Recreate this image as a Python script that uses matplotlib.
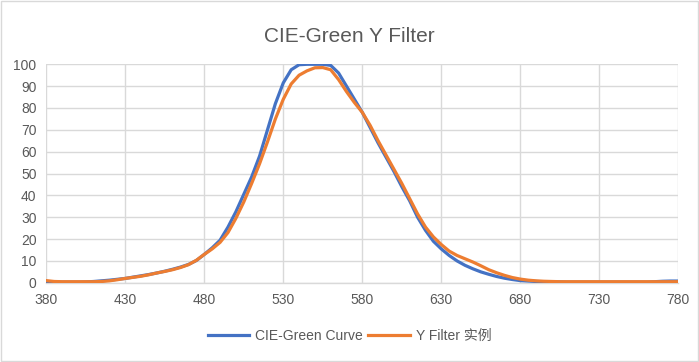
import numpy as np
import matplotlib
matplotlib.use("Agg")
from matplotlib import pyplot as plt
from matplotlib.patches import Rectangle

wavelength = list(range(380, 781, 5))

# CIE-Green Curve (blue)
cie_green = [0.3, 0.3, 0.3, 0.3, 0.3, 0.4, 0.6, 0.9, 1.2, 1.6,
             2.0, 2.6, 3.2, 3.8, 4.5, 5.3, 6.2, 7.2, 8.4, 10.2,
             13.0, 16.0, 19.5, 25.5, 32.5, 40.5, 48.5, 58.0, 70.0, 82.0,
             91.5, 97.5, 99.8, 100.0, 100.0, 100.0, 99.5, 96.0, 90.0, 84.0,
             78.0, 71.0, 64.0, 57.5, 51.0, 44.0, 37.5, 30.0, 24.0, 19.0,
             15.5, 12.5, 10.0, 8.0, 6.4, 5.0, 3.9, 2.9, 2.1, 1.5,
             1.0, 0.8, 0.6, 0.5, 0.4, 0.4, 0.3, 0.3, 0.3, 0.3,
             0.3, 0.3, 0.3, 0.3, 0.3, 0.3, 0.3, 0.5, 0.7, 0.8,
             0.8]

# Y Filter sample (orange)
y_filter = [1.0, 0.6, 0.5, 0.5, 0.5, 0.5, 0.5, 0.6, 0.9, 1.4,
            2.0, 2.5, 3.0, 3.7, 4.5, 5.2, 6.0, 7.0, 8.3, 10.3,
            13.0, 15.5, 18.5, 23.0, 29.5, 37.0, 45.5, 54.5, 64.5, 75.0,
            84.0, 91.0, 95.0, 97.0, 98.4, 98.5, 97.5, 93.0, 87.5, 82.5,
            78.0, 72.0, 65.0, 58.5, 52.0, 45.5, 38.5, 31.5, 25.5, 21.0,
            17.5, 14.5, 12.5, 11.0, 9.5, 7.8, 6.0, 4.6, 3.4, 2.4,
            1.7, 1.2, 0.9, 0.7, 0.6, 0.5, 0.5, 0.5, 0.5, 0.5,
            0.5, 0.5, 0.5, 0.5, 0.5, 0.5, 0.5, 0.5, 0.5, 0.5,
            0.5]

xticks = list(range(380, 781, 50))
yticks = list(range(0, 101, 10))

txt = "#595959"
grid = "#D9D9D9"
fonts = ["Liberation Sans Narrow", "Liberation Sans", "Noto Sans CJK SC", "DejaVu Sans"]
plt.rcParams["font.family"] = fonts

fig = plt.figure(figsize=(6.99, 3.62), dpi=100)
ax = fig.add_axes([0.0662, 0.2188, 0.9042, 0.6036])

ax.plot(wavelength, cie_green, color="#4472C4", lw=2.3, label="CIE-Green Curve", zorder=3)
ax.plot(wavelength, y_filter, color="#ED7D31", lw=2.3, label="Y Filter 实例", zorder=4)

ax.set_xlim(380, 780)
ax.set_ylim(0, 100)
ax.set_xticks(xticks)
ax.set_yticks(yticks)
ax.grid(True, color=grid, lw=1.0)
ax.set_axisbelow(True)
for s in ["top", "right", "left"]:
    ax.spines[s].set_visible(False)
ax.spines["bottom"].set_color(grid)
ax.spines["bottom"].set_linewidth(1.0)
ax.tick_params(length=0, labelsize=10, labelcolor=txt, pad=7)
for lab in ax.get_xticklabels() + ax.get_yticklabels():
    lab.set_family(fonts)

fig.suptitle("CIE-Green Y Filter", x=0.5, y=0.925, fontsize=15, color=txt)

fig.legend(loc="center", bbox_to_anchor=(0.5, 0.072), ncol=2, frameon=False,
           fontsize=10, labelcolor=txt, handlelength=3.0, handletextpad=0.4,
           columnspacing=0.4)

fig.patches.append(Rectangle((0.002, 0.003), 0.996, 0.994, transform=fig.transFigure,
                             fill=False, edgecolor=grid, lw=1.0))

fig.savefig("out.png", dpi=100)
